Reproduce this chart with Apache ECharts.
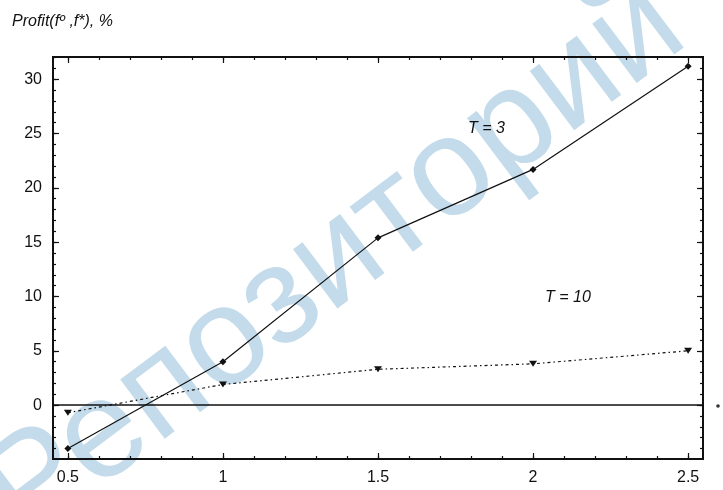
<!DOCTYPE html>
<html><head><meta charset="utf-8">
<script src="https://cdn.jsdelivr.net/npm/echarts@6/dist/echarts.min.js"></script>
<style>html,body{margin:0;padding:0;background:#fff}#c{width:723px;height:490px}</style>
</head><body><div id="c"></div>
<script>
// ---- data ----
const xValues = [0.5, 1, 1.5, 2, 2.5];
const profitT3 = [-4.0, 4.0, 15.4, 21.7, 31.2];
const profitT10 = [-0.7, 1.9, 3.3, 3.8, 5.0];
const seriesNames = ['T = 3', 'T = 10'];
const xTickLabels = [0.5, 1, 1.5, 2, 2.5];
const yTickLabels = [0, 5, 10, 15, 20, 25, 30];
const titleText = 'Profit(fº ,f*), %';
const watermarkText = 'Репозиторий';

const xMinor = []; for (let i = 5; i <= 25; i++) xMinor.push(+(i / 10).toFixed(1));
const yMinor = []; for (let i = -4; i <= 32; i++) yMinor.push(i);

const FONT = '"Liberation Sans", Arial, sans-serif';
const INK = '#111';

function xAx(pos, major, showLabel) {
  return {
    type: 'value', position: pos, min: 0.452, max: 2.548, gridIndex: 0,
    axisLine: { show: true, onZero: false, lineStyle: { color: INK, width: 2 } },
    axisTick: { show: true, inside: true, length: major ? 6 : 3, lineStyle: { color: INK, width: 1.2 },
      customValues: major ? xTickLabels : xMinor },
    axisLabel: { show: showLabel, customValues: xTickLabels, margin: 11, color: '#111', fontSize: 16, fontFamily: FONT,
      formatter: v => String(v) },
    splitLine: { show: false }
  };
}
function yAx(pos, major, showLabel) {
  return {
    type: 'value', position: pos, min: -4.96, max: 32.05, gridIndex: 0,
    axisLine: { show: true, onZero: false, lineStyle: { color: INK, width: 2 } },
    axisTick: { show: true, inside: true, length: major ? 6 : 3, lineStyle: { color: INK, width: 1.2 },
      customValues: major ? yTickLabels : yMinor },
    axisLabel: { show: showLabel, customValues: yTickLabels, margin: 11, color: '#111', fontSize: 16, fontFamily: FONT },
    splitLine: { show: false }
  };
}

const chart = echarts.init(document.getElementById('c'), null, { renderer: 'canvas' });
chart.setOption({
  backgroundColor: '#fff',
  animation: false,
  grid: { left: 53, right: 20, top: 57, bottom: 31, containLabel: false },
  xAxis: [xAx('bottom', true, true), xAx('bottom', false, false), xAx('top', true, false), xAx('top', false, false)],
  yAxis: [yAx('left', true, true), yAx('left', false, false), yAx('right', true, false), yAx('right', false, false)],
  graphic: { elements: [
    { type: 'text', z: -10, x: 335, y: 262, rotation: 37 * Math.PI / 180,
      style: { text: watermarkText, font: '140px ' + FONT, fill: '#c3dbea', align: 'center', verticalAlign: 'middle' } },
    { type: 'text', x: 12, y: 22, style: { text: titleText, font: 'italic 16px ' + FONT, fill: '#111', verticalAlign: 'middle' } },
    { type: 'text', x: 468, y: 129, style: { text: seriesNames[0], font: 'italic 16px ' + FONT, fill: '#111', verticalAlign: 'middle' } },
    { type: 'text', x: 545, y: 298, style: { text: seriesNames[1], font: 'italic 16px ' + FONT, fill: '#111', verticalAlign: 'middle' } },
    { type: 'circle', x: 718, y: 406, shape: { r: 1.8 }, style: { fill: '#333' } }
  ]},
  series: [
    { name: seriesNames[0], type: 'line', xAxisIndex: 0, yAxisIndex: 0,
      data: xValues.map((x, i) => [x, profitT3[i]]),
      symbol: 'diamond', symbolSize: 7, itemStyle: { color: INK },
      lineStyle: { color: INK, width: 1.2 },
      markLine: { silent: true, symbol: 'none', label: { show: false },
        lineStyle: { color: INK, width: 1.5, type: 'solid' }, data: [{ yAxis: 0 }] } },
    { name: seriesNames[1], type: 'line', xAxisIndex: 0, yAxisIndex: 0,
      data: xValues.map((x, i) => [x, profitT10[i]]),
      symbol: 'triangle', symbolRotate: 180, symbolSize: [8, 6], itemStyle: { color: INK },
      lineStyle: { color: INK, width: 1.2, type: [3, 3, 1.5, 3] } }
  ]
});
</script></body></html>
